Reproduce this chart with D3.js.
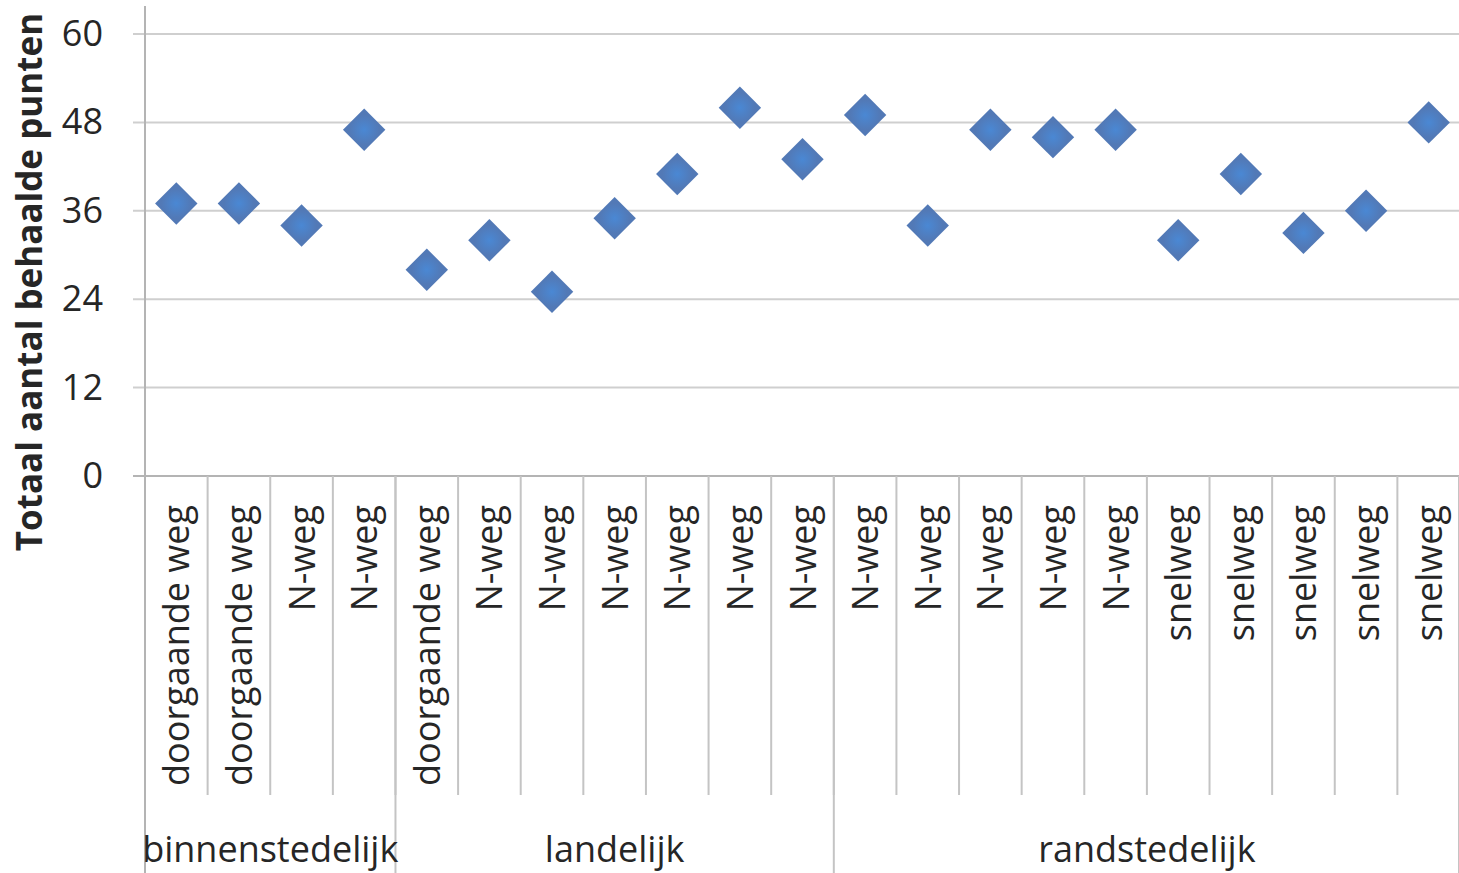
<!DOCTYPE html>
<html>
<head>
<meta charset="utf-8">
<script src="https://cdn.jsdelivr.net/npm/d3@7"></script>
<style>
	body { margin: 0; background: #fff; }
	text { font-family: "Open Sans", sans-serif; fill: #262626; }
</style>
</head>
<body>
<script>
// road types per measurement point
var roadTypes = ["doorgaande weg", "doorgaande weg", "N-weg", "N-weg",
	"doorgaande weg", "N-weg", "N-weg", "N-weg", "N-weg", "N-weg", "N-weg",
	"N-weg", "N-weg", "N-weg", "N-weg", "N-weg",
	"snelweg", "snelweg", "snelweg", "snelweg", "snelweg"];

// area groups and how many points each covers
var groupNames = ["binnenstedelijk", "landelijk", "randstedelijk"];
var groupSizes = [4, 7, 10];

// total points scored
var scores = [37, 37, 34, 47, 28, 32, 25, 35, 41, 50, 43, 49, 34, 47, 46, 47, 32, 41, 33, 36, 48];

var yTicks = [0, 12, 24, 36, 48, 60];

function main(){
	var w = 1459;
	var h = 873;
	var left = 145;
	var right = 1460;
	var top = 34;
	var bottom = 476;

	var svg = d3.select("body")
				.append("svg")
				.attr("width", w)
				.attr("height", h);

	var defs = svg.append("defs");
	var grad = defs.append("radialGradient").attr("id", "dia");
	grad.append("stop").attr("offset", "0%").attr("stop-color", "#4a88d4");
	grad.append("stop").attr("offset", "100%").attr("stop-color", "#5279b6");

	var idx = d3.range(scores.length);

	var xScale = d3.scaleBand()
					.domain(idx)
					.range([left, right])
					.padding(0);

	var yScale = d3.scaleLinear()
					.domain([0, 60])
					.range([bottom, top]);

	// horizontal gridlines
	svg.append("g")
		.selectAll("line")
		.data(yTicks)
		.enter()
		.append("line")
		.attr("x1", left - 12)
		.attr("x2", right)
		.attr("y1", d => yScale(d))
		.attr("y2", d => yScale(d))
		.attr("stroke", d => d === 0 ? "#b4b4b4" : "#cfcfcf")
		.attr("stroke-width", 2);

	// y axis labels
	var yAxis = d3.axisLeft(yScale)
					.tickValues(yTicks)
					.tickSize(0)
					.tickPadding(42);

	var ya = svg.append("g")
			.attr("class", "yaxis")
			.attr("transform", "translate(" + left + ",0)")
			.call(yAxis);
	ya.select(".domain").remove();
	ya.selectAll("text")
		.attr("font-size", 36)
		.attr("font-family", "Open Sans")
		.attr("fill", "#262626");

	// y axis line
	svg.append("line")
		.attr("x1", left).attr("x2", left)
		.attr("y1", 6).attr("y2", h)
		.attr("stroke", "#b4b4b4")
		.attr("stroke-width", 2);

	// category separators
	svg.append("g")
		.selectAll("line")
		.data(idx.slice(1))
		.enter()
		.append("line")
		.attr("x1", d => xScale(d))
		.attr("x2", d => xScale(d))
		.attr("y1", bottom)
		.attr("y2", 795)
		.attr("stroke", "#c4c4c4")
		.attr("stroke-width", 2);

	// group separators and labels
	var starts = [];
	var acc = 0;
	groupSizes.forEach(function(s){ starts.push(acc); acc += s; });

	svg.append("g")
		.selectAll("line")
		.data(starts.slice(1).concat([acc]))
		.enter()
		.append("line")
		.attr("x1", d => d < acc ? xScale(d) : right - 1)
		.attr("x2", d => d < acc ? xScale(d) : right - 1)
		.attr("y1", bottom)
		.attr("y2", h)
		.attr("stroke", "#c4c4c4")
		.attr("stroke-width", 2);

	svg.append("g")
		.selectAll("text")
		.data(groupNames)
		.enter()
		.append("text")
		.attr("x", function(d, i){
			var a = xScale(starts[i]);
			var b = xScale(starts[i] + groupSizes[i] - 1) + xScale.bandwidth();
			return (a + b) / 2;
		})
		.attr("y", 862)
		.attr("text-anchor", "middle")
		.attr("font-size", 36)
		.text(d => d);

	// rotated category labels
	svg.append("g")
		.selectAll("text")
		.data(roadTypes)
		.enter()
		.append("text")
		.attr("transform", (d, i) => "translate(" + (xScale(i) + xScale.bandwidth() / 2 + 13) + ",505) rotate(-90)")
		.attr("text-anchor", "end")
		.attr("font-size", 36)
		.text(d => d);

	// y axis title
	svg.append("text")
		.attr("transform", "translate(42,282) rotate(-90)")
		.attr("text-anchor", "middle")
		.attr("font-size", 35)
		.attr("font-weight", "bold")
		.text("Totaal aantal behaalde punten");

	// markers
	svg.append("g")
		.selectAll("path")
		.data(scores)
		.enter()
		.append("path")
		.attr("d", d3.symbol().type(d3.symbolSquare).size(900))
		.attr("transform", (d, i) => "translate(" + (xScale(i) + xScale.bandwidth() / 2) + "," + yScale(d) + ") rotate(45)")
		.attr("fill", "url(#dia)");
}

main();
</script>
</body>
</html>
